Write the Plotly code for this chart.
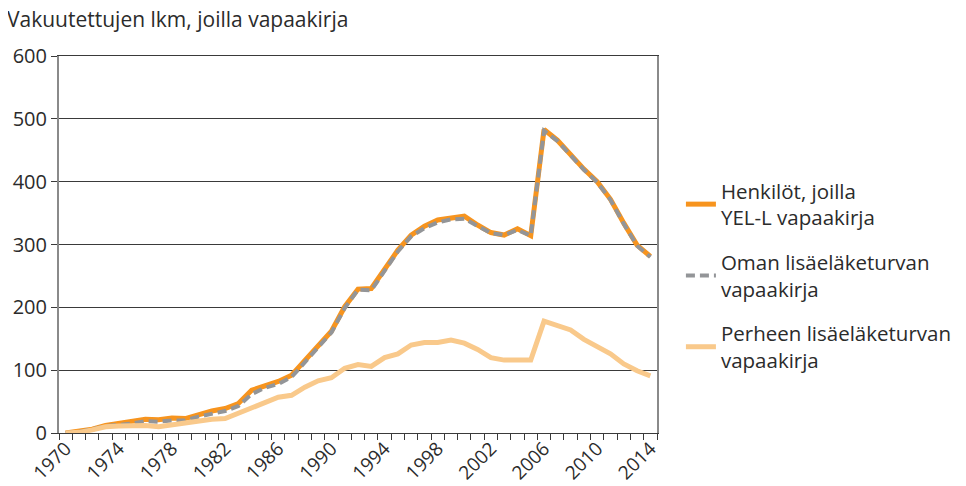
import plotly.graph_objects as go

years = list(range(1970, 2015))
henkilot = [0, 2, 6, 12, 15, 17, 22, 21, 24, 23, 30, 35, 39, 47, 68, 75, 82, 92, 116, 140,
            162, 201, 229, 230, 259, 291, 315, 329, 339, 343, 345, 331, 319, 315, 325, 314,
            483, 466, 443, 420, 400, 372, 334, 299, 281]
oman = [0, 2, 6, 11, 13, 15, 19, 18, 20, 20, 26, 31, 35, 43, 62, 72, 78, 89, 113, 138,
        160, 199, 228, 227, 257, 289, 313, 326, 335, 340, 341, 330, 318, 315, 323, 314,
        481, 465, 442, 419, 399, 371, 333, 298, 280]
perheen = [0, 1, 5, 10, 11, 11, 12, 10, 13, 14, 18, 22, 23, 31, 41, 48, 57, 60, 73, 83,
           88, 103, 109, 106, 120, 126, 140, 144, 144, 148, 143, 133, 120, 116, 116, 116,
           178, 171, 164, 149, 138, 126, 110, 99, 91]
tick_years = [1970, 1974, 1978, 1982, 1986, 1990, 1994, 1998, 2002, 2006, 2010, 2014]
names = ["Henkilöt, joilla<br>YEL-L vapaakirja",
         "Oman lisäeläketurvan<br>vapaakirja",
         "Perheen lisäeläketurvan<br>vapaakirja"]

FONT = "Open Sans, Noto Sans, sans-serif"
TXT = "#2b2b2b"
fig = go.Figure()
fig.add_trace(go.Scatter(x=years, y=henkilot, mode="lines", name=names[0], legendgroup="a",
                         line=dict(color="#F7941E", width=5)))
fig.add_trace(go.Scatter(x=years, y=oman, mode="lines", name=names[1], legendgroup="b",
                         line=dict(color="#939598", width=4, dash="9px,5px")))
fig.add_trace(go.Scatter(x=years, y=perheen, mode="lines", name=names[2], legendgroup="c",
                         line=dict(color="#F9C98B", width=5)))

# page body has an 8px margin, so the figure is sized to the visible area
fig.update_layout(
    width=958, height=478,
    margin=dict(l=51, r=309, t=48, b=53, autoexpand=False),
    paper_bgcolor="white", plot_bgcolor="white",
    font=dict(family=FONT, size=20, color=TXT),
    showlegend=True,
    legend=dict(x=1.04, y=0.695, xanchor="left", yanchor="top",
                font=dict(size=20.5, color=TXT), tracegroupgap=15,
                itemwidth=30, bgcolor="rgba(0,0,0,0)"),
    annotations=[dict(text="Vakuutettujen lkm, joilla vapaakirja", x=-0.09, y=1.097,
                      xref="paper", yref="paper", xanchor="left", yanchor="middle",
                      showarrow=False, font=dict(size=21, color=TXT))],
)
fig.update_xaxes(range=[1969.5, 2014.5], tickvals=tick_years, ticktext=[str(t) for t in tick_years],
                 tickangle=-45, ticks="outside", ticklen=0, tickcolor="#3a3a3a",
                 ticklabelstandoff=-4,
                 showline=True, linecolor="#3a3a3a", linewidth=1, mirror=True,
                 showgrid=False, zeroline=False, automargin=False,
                 minor=dict(tick0=1969.5, dtick=1, ticks="outside", ticklen=6,
                            tickcolor="#3a3a3a", showgrid=False),
                 tickfont=dict(size=19, color=TXT))
fig.update_yaxes(range=[0, 600], dtick=100, ticks="outside", ticklen=6, tickcolor="#3a3a3a",
                 showgrid=True, gridcolor="#3a3a3a", gridwidth=1, automargin=False,
                 showline=True, linecolor="#8a8a8a", linewidth=2, mirror=True,
                 zeroline=False, tickfont=dict(size=20, color=TXT))

fig.write_html("out.html")
